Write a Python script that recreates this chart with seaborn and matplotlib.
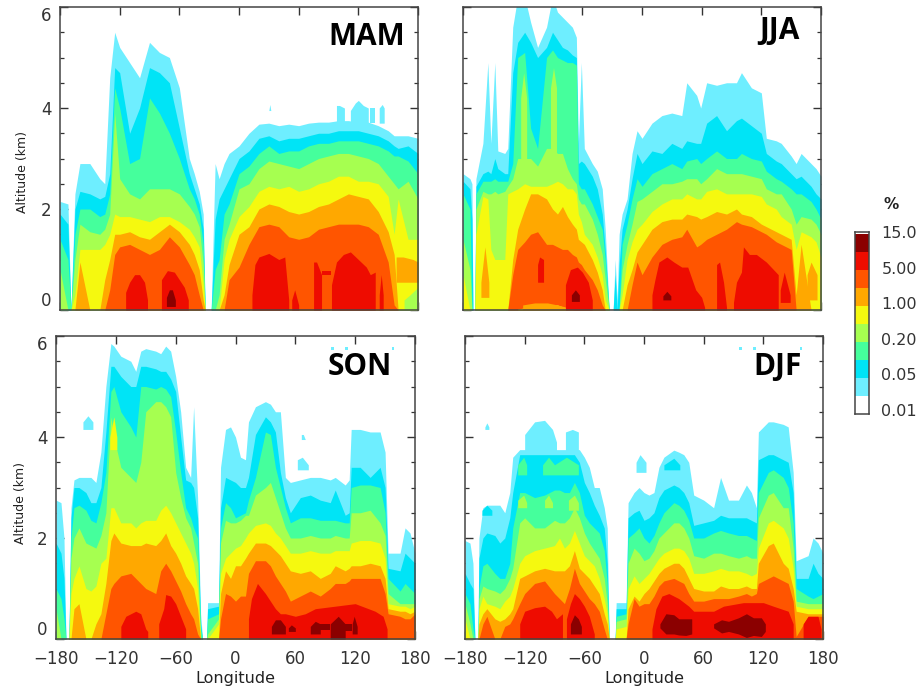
import numpy as np
import matplotlib
matplotlib.use("Agg")
import matplotlib.pyplot as plt
from matplotlib.colors import ListedColormap
import seaborn as sns

BAND_COLORS = ["#6EEEFF", "#00E4F6", "#45FF9C", "#A6FF50", "#F5F90F",
               "#FFA800", "#FF5500", "#EE0C00", "#8B0000"]
KEY_LABELS = ["15.0", "5.00", "1.00", "0.20", "0.05", "0.01"]
X_TICKS = [-180, -120, -60, 0, 60, 120, 180]

# ---- MAM: altitude (km) reached by each concentration band at each longitude
MAM_LON = [-180, -172, -169, -165, -160, -150, -140, -135, -130, -125,
           -120, -110, -100, -90, -80, -70, -60, -50, -45, -40,
           -36, -34, -28, -24, -20, -15, -10, 0, 10, 20,
           30, 40, 50, 60, 70, 80, 90, 100, 110, 120,
           130, 140, 150, 156, 160, 170, 180]
MAM_T1 = [2.15, 2.1, 0, 2.3, 2.9, 2.9, 2.6, 2.5, 4.6, 5.5,
          5.2, 4.9, 4.6, 5.3, 5.1, 5.0, 4.4, 3.0, 2.7, 2.35,
          1.9, 0, 0, 2.9, 2.6, 2.9, 3.1, 3.25, 3.5, 3.68,
          3.7, 3.65, 3.68, 3.65, 3.7, 3.72, 3.72, 3.75, 3.75, 3.72,
          3.72, 3.65, 3.55, 3.45, 3.45, 3.45, 3.4]
MAM_T2 = [1.9, 1.7, 0, 2.0, 2.35, 2.3, 2.2, 2.25, 2.7, 4.8,
          4.7, 3.5, 4.0, 4.8, 4.7, 4.5, 3.6, 2.7, 2.4, 2.1,
          1.6, 0, 0, 1.8, 2.2, 2.4, 2.6, 3.0, 3.15, 3.4,
          3.45, 3.35, 3.4, 3.4, 3.45, 3.5, 3.5, 3.55, 3.55, 3.55,
          3.5, 3.45, 3.35, 3.25, 3.2, 3.25, 3.1]
MAM_T3 = [1.4, 1.0, 0, 1.5, 2.0, 2.0, 1.85, 1.9, 2.3, 4.4,
          4.0, 2.9, 3.0, 4.2, 3.9, 3.5, 3.0, 2.4, 2.2, 1.9,
          1.3, 0, 0, 0.8, 1.0, 1.9, 2.1, 2.7, 2.85, 3.1,
          3.25, 3.1, 3.15, 3.15, 3.25, 3.3, 3.3, 3.35, 3.35, 3.35,
          3.3, 3.25, 3.15, 3.05, 3.05, 2.95, 2.7]
MAM_T4 = [0.8, 0, 0, 1.0, 1.7, 1.55, 1.5, 1.6, 1.9, 3.9,
          2.6, 2.3, 2.2, 2.4, 2.4, 2.4, 2.3, 2.05, 1.9, 1.65,
          0.9, 0, 0, 0, 0.3, 1.4, 1.7, 2.4, 2.5, 2.8,
          2.95, 2.9, 2.85, 2.8, 2.9, 3.0, 3.05, 3.1, 3.1, 3.05,
          3.0, 2.9, 2.65, 2.5, 2.4, 2.55, 2.2]
MAM_T5 = [0, 0, 0, 0.3, 1.2, 1.2, 1.2, 1.3, 1.5, 1.9,
          1.85, 1.85, 1.8, 1.75, 1.85, 1.85, 1.75, 1.6, 1.45, 1.25,
          0.5, 0, 0, 0, 0, 1.0, 1.4, 1.85, 2.05, 2.35,
          2.45, 2.4, 2.45, 2.35, 2.4, 2.5, 2.55, 2.65, 2.65, 2.55,
          2.55, 2.5, 2.25, 1.5, 2.2, 1.4, 1.4]
MAM_T6 = [0, 0, 0, 0, 0.95, 0, 0, 0.6, 1.0, 1.5,
          1.5, 1.55, 1.45, 1.4, 1.55, 1.7, 1.55, 1.3, 1.1, 0.8,
          0.2, 0, 0, 0, 0, 0.3, 0.9, 1.5, 1.65, 2.0,
          2.1, 2.05, 1.95, 1.9, 1.95, 2.05, 2.1, 2.2, 2.3, 2.25,
          2.2, 1.95, 1.55, 1.1, 0, 0, 0]
MAM_T7 = [0, 0, 0, 0, 0, 0, 0, 0, 0.4, 1.1,
          1.25, 1.3, 1.2, 1.1, 1.2, 1.45, 1.25, 0.9, 0.7, 0.3,
          0, 0, 0, 0, 0, 0, 0.6, 0.85, 1.3, 1.65,
          1.7, 1.65, 1.45, 1.4, 1.45, 1.6, 1.65, 1.7, 1.7, 1.7,
          1.65, 1.5, 0.95, 0.1, 0, 0, 0]
MAM_PATCHES = [
    (1, [30, 31, 32], 3.95, [3.95, 4.07, 3.95]),
    (1, [98, 101, 106], 3.65, [4.05, 4.05, 4.0]),
    (1, [112, 117, 120, 125, 130], 3.65, [3.95, 4.1, 4.15, 4.05, 4.0]),
    (1, [132, 137], 3.7, [4.0, 4.0]),
    (1, [141, 144, 146], 3.7, [4.0, 4.07, 4.0]),
    (4, [166, 172, 180], 0, [0.2, 0.3, 0.45]),
    (6, [158, 165, 175, 180], 0.55, [1.05, 1.05, 1.0, 0.95]),
    (8, [-114, -110, -105, -100, -95, -92], 0, [0.35, 0.55, 0.7, 0.7, 0.55, 0.2]),
    (8, [-78, -72, -65, -60, -55, -51], 0, [0.6, 0.78, 0.75, 0.6, 0.45, 0.2]),
    (8, [13, 16, 20, 30, 40, 46, 50], 0, [0.3, 0.9, 1.05, 1.12, 1.0, 1.05, 0.2]),
    (8, [53, 56, 60], 0, [0.2, 0.4, 0.1]),
    (8, [75, 78, 83], 0, [0.95, 0.95, 0.7]),
    (8, [83, 93], 0.7, [0.78, 0.78]),
    (8, [93, 98, 105, 112, 120, 128, 132, 137], 0, [0.5, 0.95, 1.1, 1.15, 1.0, 0.85, 0.7, 0.75]),
    (8, [141, 143, 145], 0, [0.3, 0.7, 0.3]),
    (9, [-73, -70, -67, -64], 0.07, [0.25, 0.4, 0.4, 0.2]),
]

# ---- JJA
JJA_LON = [-180, -173, -171, -170, -168, -167, -160, -155, -152, -148,
           -145, -138, -135, -130, -125, -118, -112, -105, -96, -90,
           -85, -80, -75, -70, -66, -64, -61, -58, -50, -45,
           -40, -37, -33, -29, -27, -25, -23, -20, -15, -10,
           -5, 0, 10, 20, 30, 40, 45, 55, 59, 65,
           75, 85, 95, 100, 110, 120, 125, 135, 140, 150,
           155, 160, 170, 175, 180]
JJA_T1 = [2.7, 2.6, 2.5, 0, 0, 2.6, 3.3, 4.9, 3.3, 4.9,
          3.15, 3.1, 3.2, 5.6, 6.2, 6.2, 5.7, 5.2, 5.6, 6.2,
          5.9, 5.8, 5.7, 5.6, 5.4, 3.3, 4.9, 3.2, 2.9, 2.75,
          2.4, 1.6, 0, 0, 1.0, 0.2, 1.5, 1.9, 2.2, 3.1,
          3.55, 3.4, 3.7, 3.85, 3.9, 3.85, 4.5, 4.25, 4.0, 4.5,
          4.45, 4.5, 4.5, 4.7, 4.4, 4.3, 3.4, 3.35, 3.3, 3.05,
          2.9, 3.1, 2.9, 2.8, 2.65]
JJA_T2 = [2.55, 2.4, 1.8, 0, 0, 2.45, 2.7, 2.75, 2.7, 3.0,
          2.8, 2.7, 2.7, 4.7, 5.3, 5.5, 5.3, 5.0, 5.2, 5.5,
          5.35, 5.2, 5.15, 5.05, 5.0, 2.9, 2.95, 2.9, 2.65, 2.4,
          1.9, 1.2, 0, 0, 0.7, 0, 0.9, 1.6, 2.0, 2.6,
          3.1, 2.9, 3.15, 3.1, 3.3, 3.2, 3.35, 3.3, 3.3, 3.7,
          3.85, 3.55, 3.75, 3.8, 3.65, 3.5, 3.1, 2.95, 2.9, 2.7,
          2.6, 2.65, 2.45, 2.3, 2.2]
JJA_T3 = [2.3, 2.0, 0, 0, 0, 2.3, 2.55, 2.55, 2.55, 2.6,
          2.55, 2.55, 2.55, 2.9, 5.0, 5.1, 3.6, 3.2, 5.0, 5.15,
          5.0, 4.95, 4.9, 4.9, 4.85, 2.5, 2.4, 2.4, 2.1, 1.85,
          1.6, 1.0, 0, 0, 0, 0, 0, 1.3, 1.7, 2.2,
          2.6, 2.45, 2.7, 2.8, 2.9, 2.8, 2.95, 3.0, 2.9, 3.0,
          3.15, 3.0, 3.0, 3.1, 3.0, 2.95, 2.75, 2.6, 2.55, 2.4,
          2.3, 2.3, 2.15, 2.0, 1.8]
JJA_T4 = [1.4, 0.8, 0, 0, 0, 2.0, 2.35, 2.3, 2.3, 2.35,
          2.3, 2.35, 2.45, 2.6, 3.0, 3.0, 3.0, 2.85, 3.2, 3.2,
          3.1, 3.1, 2.8, 2.6, 2.5, 2.2, 2.1, 2.1, 1.8, 1.5,
          1.1, 0.6, 0, 0, 0, 0, 0, 0.8, 1.3, 1.7,
          2.15, 2.2, 2.35, 2.5, 2.5, 2.55, 2.6, 2.6, 2.5, 2.6,
          2.8, 2.7, 2.7, 2.7, 2.65, 2.6, 2.4, 2.3, 2.3, 2.0,
          1.7, 1.85, 1.8, 1.7, 1.5]
JJA_T5 = [0.7, 0, 0, 0, 0, 1.5, 2.25, 2.2, 1.2, 1.0,
          1.0, 1.0, 2.3, 2.35, 2.4, 2.5, 2.45, 2.45, 2.45, 2.5,
          2.55, 2.5, 2.4, 2.4, 2.3, 1.9, 1.75, 1.5, 1.3, 1.05,
          0.7, 0.2, 0, 0, 0, 0, 0, 0.3, 1.0, 1.35,
          1.6, 1.7, 1.95, 2.1, 2.2, 2.2, 2.3, 2.2, 2.2, 2.35,
          2.4, 2.3, 2.3, 2.3, 2.3, 2.25, 2.1, 2.0, 1.85, 1.7,
          1.2, 1.55, 1.45, 1.35, 1.05]
JJA_T6 = [0, 0, 0, 0, 0, 0, 0, 0, 0, 0,
          0, 0, 0, 1.0, 1.6, 2.0, 2.3, 2.3, 2.2, 2.0,
          1.9, 2.05, 1.85, 1.7, 1.6, 1.4, 1.35, 1.3, 1.0, 0.75,
          0.4, 0, 0, 0, 0, 0, 0, 0, 0.5, 0.8,
          1.15, 1.3, 1.6, 1.75, 1.8, 1.8, 1.9, 1.85, 1.8, 1.85,
          1.95, 1.9, 2.0, 1.9, 1.85, 1.7, 1.65, 1.55, 1.5, 1.4,
          0.3, 1.3, 0, 0, 0]
JJA_T7 = [0, 0, 0, 0, 0, 0, 0, 0, 0, 0,
          0, 0, 0, 0.7, 1.2, 1.35, 1.5, 1.55, 1.3, 1.3,
          1.25, 1.2, 1.2, 1.1, 1.05, 0.95, 0.9, 0.8, 0.6, 0.4,
          0.1, 0, 0, 0, 0, 0, 0, 0, 0, 0.5,
          0.95, 0.7, 1.05, 1.3, 1.4, 1.45, 1.6, 1.25, 1.3, 1.4,
          1.5, 1.6, 1.75, 1.7, 1.65, 1.55, 1.5, 1.35, 1.3, 1.2,
          0, 0, 0, 0, 0]
JJA_PATCHES = [
    (4, [-122, -119, -116], 2.9, [4.2, 4.7, 4.2]),
    (4, [-92, -89, -86], 3.0, [4.4, 4.8, 4.4]),
    (5, [-125, -115, -105, -85, -75, -68], 0, [0.02, 0.05, 0.08, 0.1, 0.03, 0]),
    (6, [-162, -158, -154], 0.25, [0.55, 1.25, 0.55]),
    (6, [166, 170, 176], 0.2, [0.7, 0.95, 0.7]),
    (6, [-120, -108, -95, -85, -75], 0, [0.1, 0.14, 0.14, 0.1, 0.05]),
    (8, [-105, -103, -99], 0.55, [0.9, 1.05, 1.0]),
    (8, [-77, -72, -65, -60, -54, -50], 0, [0.5, 0.8, 0.85, 0.75, 0.55, 0.2]),
    (8, [10, 13, 17, 25, 32, 40, 46, 54, 60, 63], 0, [0.3, 0.6, 0.95, 1.05, 0.95, 0.85, 0.85, 0.4, 0.25, 0.05]),
    (8, [75, 78, 82, 85], 0, [0.9, 0.95, 0.55, 0.05]),
    (8, [92, 95, 100, 102, 108, 115, 125, 137], 0, [0.15, 0.55, 0.75, 1.25, 1.1, 1.1, 0.95, 0.7]),
    (8, [139, 143, 149], 0.15, [0.4, 0.75, 0.3]),
    (9, [-71, -67, -63], 0.17, [0.3, 0.4, 0.3]),
    (9, [21, 25, 29], 0.2, [0.28, 0.37, 0.28]),
]

# ---- SON
SON_LON = [-180, -175, -172, -170, -167, -165, -162, -157, -150, -145,
           -140, -135, -130, -125, -122, -115, -105, -100, -95, -90,
           -80, -75, -70, -65, -60, -55, -50, -45, -42, -38,
           -35, -33, -29, -28, -17, -15, -10, -5, 0, 5,
           10, 13, 20, 30, 35, 40, 45, 50, 55, 65,
           75, 85, 95, 100, 110, 114, 116, 125, 135, 145,
           150, 153, 165, 170, 175, 180]
SON_T1 = [2.75, 2.7, 2.0, 0, 0, 2.6, 3.15, 3.2, 3.2, 3.2,
          3.1, 3.7, 5.0, 5.85, 5.8, 5.6, 5.5, 5.3, 5.7, 5.75,
          5.7, 5.65, 5.8, 5.7, 5.2, 4.5, 3.4, 3.2, 4.6, 2.8,
          0.5, 0, 0, 0.72, 0.72, 3.4, 4.15, 4.2, 4.0, 3.6,
          3.55, 4.3, 4.6, 4.7, 4.65, 4.5, 4.5, 3.2, 3.1, 3.15,
          3.2, 3.2, 3.15, 3.2, 3.05, 3.15, 4.15, 4.15, 4.1, 4.1,
          3.7, 1.7, 1.7, 2.2, 2.1, 1.7]
SON_T2 = [1.9, 1.7, 1.2, 0, 0, 2.4, 3.0, 3.0, 2.9, 2.7,
          2.7, 3.0, 4.1, 5.4, 5.4, 5.2, 5.0, 5.0, 5.4, 5.4,
          5.35, 5.3, 5.3, 5.15, 4.9, 4.0, 3.15, 3.1, 3.0, 2.4,
          0.3, 0, 0, 0.6, 0.65, 2.6, 3.2, 3.15, 3.1, 3.0,
          3.0, 3.2, 4.05, 4.4, 4.3, 4.1, 3.3, 2.8, 2.5, 2.8,
          2.85, 2.75, 2.7, 2.95, 2.45, 2.5, 3.4, 3.4, 3.2, 3.4,
          3.0, 1.4, 1.35, 1.7, 1.6, 1.5]
SON_T3 = [1.0, 0.8, 0.4, 0, 0, 2.0, 2.6, 2.65, 2.55, 2.35,
          2.3, 2.7, 3.3, 4.9, 5.0, 4.5, 4.2, 4.0, 5.0, 5.0,
          4.95, 5.0, 4.95, 4.8, 4.1, 3.3, 2.6, 2.4, 2.2, 2.0,
          0.2, 0, 0, 0.4, 0.5, 2.2, 2.7, 2.6, 2.4, 2.45,
          2.5, 2.75, 3.2, 4.1, 4.05, 3.4, 3.0, 2.6, 2.3, 2.4,
          2.4, 2.35, 2.35, 2.35, 2.3, 2.3, 3.0, 3.05, 3.05, 3.0,
          2.5, 1.2, 0.95, 1.1, 1.0, 0.9]
SON_T4 = [0.6, 0, 0, 0, 0, 1.6, 2.0, 2.2, 1.9, 1.85,
          1.8, 2.05, 2.5, 4.4, 4.0, 3.4, 3.2, 3.1, 3.5, 4.5,
          4.7, 4.7, 4.6, 4.4, 3.3, 2.8, 2.4, 2.2, 1.9, 1.5,
          0, 0, 0, 0.1, 0.4, 1.9, 2.35, 2.3, 2.3, 2.35,
          2.45, 2.45, 2.85, 3.0, 3.1, 2.8, 2.5, 2.2, 2.0, 2.0,
          2.05, 2.0, 2.0, 2.05, 2.0, 2.0, 2.5, 2.5, 2.55, 2.3,
          2.05, 0.9, 0.7, 0.7, 0.7, 0.7]
SON_T5 = [0, 0, 0, 0, 0, 0.9, 1.2, 1.45, 1.0, 0.95,
          1.05, 1.5, 1.6, 2.6, 2.6, 2.3, 2.3, 2.2, 2.3, 2.35,
          2.35, 2.55, 2.65, 2.5, 2.3, 2.1, 1.9, 1.7, 1.5, 1.0,
          0, 0, 0, 0, 0.3, 1.3, 1.6, 1.7, 1.8, 1.85,
          2.0, 2.1, 2.25, 2.3, 2.25, 2.1, 2.0, 1.85, 1.7, 1.7,
          1.75, 1.7, 1.7, 1.75, 1.75, 1.75, 1.9, 1.95, 1.95, 1.9,
          1.6, 0.7, 0.65, 0.65, 0.6, 0.65]
SON_T6 = [0, 0, 0, 0, 0, 0, 0.6, 0.7, 0, 0,
          0.3, 0.5, 1.1, 1.95, 2.1, 1.9, 1.85, 1.85, 1.85, 1.9,
          1.85, 1.95, 2.1, 1.85, 1.7, 1.5, 1.25, 1.1, 1.0, 0.6,
          0, 0, 0, 0, 0, 0.9, 1.35, 1.2, 1.45, 1.45,
          1.6, 1.7, 1.9, 1.9, 1.85, 1.75, 1.65, 1.5, 1.35, 1.3,
          1.35, 1.2, 1.3, 1.45, 1.35, 1.4, 1.45, 1.45, 1.5, 1.45,
          1.2, 0.6, 0.55, 0.55, 0.5, 0.55]
SON_T7 = [0, 0, 0, 0, 0, 0, 0, 0, 0, 0,
          0, 0, 0.5, 1.0, 1.1, 1.25, 1.3, 1.2, 1.1, 1.0,
          0.9, 1.35, 1.5, 1.35, 1.15, 0.95, 0.7, 0.5, 0.4, 0.1,
          0, 0, 0, 0, 0, 0.4, 0.9, 0.85, 0.75, 0.85,
          0.85, 1.3, 1.55, 1.55, 1.45, 1.25, 1.1, 0.95, 0.75, 0.85,
          0.95, 0.85, 1.0, 1.1, 1.1, 1.15, 1.2, 1.2, 1.2, 1.2,
          0.9, 0.5, 0.45, 0.4, 0.4, 0.5]
SON_PATCHES = [
    (1, [-153, -148, -143], 4.15, [4.3, 4.42, 4.3]),
    (1, [66, 68, 70], 3.95, [4.05, 4.05, 3.95]),
    (1, [62, 67, 73], 3.35, [3.55, 3.6, 3.45]),
    (1, [96, 99], 5.72, [5.78, 5.78]),
    (1, [110, 113], 5.72, [5.78, 5.78]),
    (1, [157, 159], 5.72, [5.78, 5.78]),
    (5, [-126, -122, -119], 3.75, [4.0, 4.4, 4.0]),
    (8, [-115, -110, -100, -95, -90, -88], 0, [0.25, 0.45, 0.55, 0.5, 0.2, 0.15]),
    (8, [-77, -72, -70, -65, -60, -55, -50], 0, [0.3, 0.6, 0.88, 0.85, 0.7, 0.45, 0.2]),
    (8, [13, 16, 22, 30, 40, 45, 50, 60, 70, 80, 100, 120, 140, 148, 152],
     0, [0.4, 0.8, 1.1, 0.9, 0.6, 0.5, 0.5, 0.45, 0.5, 0.6, 0.65, 0.7, 0.55, 0.45, 0.2]),
    (9, [36, 40, 45, 50], 0.1, [0.25, 0.38, 0.38, 0.25]),
    (9, [53, 56, 60], 0.15, [0.22, 0.28, 0.22]),
    (9, [75, 80, 85], 0.1, [0.25, 0.35, 0.3]),
    (9, [85, 95], 0.18, [0.3, 0.3]),
    (9, [95, 103, 110], 0.0, [0.3, 0.45, 0.3]),
    (9, [110, 117], 0.15, [0.3, 0.3]),
    (9, [117, 119, 122], 0.1, [0.3, 0.45, 0.25]),
]

# ---- DJF
DJF_LON = [-180, -175, -172, -170, -167, -166, -162, -158, -150, -145,
           -140, -135, -132, -125, -120, -110, -100, -90, -85, -80,
           -75, -70, -65, -60, -55, -50, -45, -40, -37, -35,
           -29, -28, -18, -16, -10, -5, 0, 5, 10, 15,
           20, 30, 35, 40, 45, 50, 60, 70, 77, 85,
           95, 103, 108, 113, 115, 125, 130, 140, 145, 150,
           153, 165, 170, 175, 180]
DJF_T1 = [1.95, 1.9, 1.5, 0, 0, 2.0, 2.6, 2.65, 2.65, 2.65,
          2.5, 2.9, 3.6, 3.75, 3.75, 3.75, 3.75, 3.75, 3.75, 3.75,
          3.75, 3.75, 3.75, 3.6, 3.4, 3.0, 3.0, 2.6, 2.2, 0,
          0, 0.72, 0.72, 2.7, 2.9, 3.0, 2.9, 2.85, 2.9, 3.4,
          3.6, 3.74, 3.7, 3.65, 3.5, 2.85, 2.75, 2.6, 3.2, 2.75,
          2.75, 3.05, 2.9, 2.6, 4.1, 4.3, 4.3, 4.25, 4.2, 3.3,
          1.55, 1.65, 2.0, 1.9, 1.7]
DJF_T2 = [1.3, 1.1, 1.0, 0, 0, 1.6, 2.0, 2.1, 2.05, 1.9,
          2.0, 2.4, 2.9, 3.65, 3.65, 3.65, 3.65, 3.65, 3.65, 3.65,
          3.65, 3.65, 3.5, 3.1, 2.9, 2.65, 2.45, 2.2, 1.5, 0,
          0, 0.6, 0.6, 2.4, 2.5, 2.55, 2.35, 2.4, 2.5, 2.8,
          2.95, 3.05, 3.0, 2.9, 2.7, 2.25, 2.3, 2.35, 2.45, 2.4,
          2.4, 2.4, 2.35, 2.3, 3.55, 3.65, 3.65, 3.55, 3.5, 2.9,
          1.2, 1.2, 1.5, 1.3, 1.2]
DJF_T3 = [0.9, 0.7, 0.2, 0, 0, 1.0, 1.45, 1.5, 1.3, 1.2,
          1.2, 1.5, 2.2, 2.9, 2.9, 2.8, 2.85, 2.95, 2.95, 2.9,
          2.9, 3.1, 2.9, 2.45, 2.3, 2.2, 2.1, 1.75, 1.1, 0,
          0, 0.45, 0.5, 2.0, 2.1, 2.2, 2.0, 1.9, 2.05, 2.3,
          2.5, 2.7, 2.65, 2.55, 2.35, 2.0, 2.0, 2.1, 2.15, 2.1,
          2.05, 2.05, 2.0, 1.95, 2.9, 3.3, 3.35, 3.2, 3.0, 2.3,
          1.0, 0.85, 0.8, 0.85, 0.9]
DJF_T4 = [0.7, 0.3, 0, 0, 0, 0.8, 1.05, 1.0, 0.95, 0.9,
          1.0, 1.2, 1.4, 2.3, 2.4, 2.2, 2.2, 2.35, 2.3, 2.3,
          2.4, 2.6, 2.4, 2.1, 1.9, 1.75, 1.6, 1.2, 0.7, 0,
          0, 0.35, 0.4, 1.5, 1.8, 1.7, 1.55, 1.6, 1.75, 2.0,
          2.1, 2.3, 2.3, 2.2, 2.0, 1.65, 1.6, 1.7, 1.7, 1.65,
          1.6, 1.65, 1.6, 1.6, 2.4, 2.85, 2.9, 2.6, 2.6, 1.8,
          0.75, 0.7, 0.7, 0.7, 0.7]
DJF_T5 = [0.4, 0, 0, 0, 0, 0.6, 0.85, 0.7, 0.65, 0.6,
          0.75, 0.85, 1.0, 1.5, 1.65, 1.75, 1.8, 1.85, 2.0, 1.8,
          1.9, 2.15, 1.9, 1.65, 1.55, 1.45, 1.2, 0.8, 0.5, 0,
          0, 0.2, 0.25, 1.0, 1.25, 1.1, 1.2, 1.3, 1.45, 1.6,
          1.7, 1.8, 1.8, 1.75, 1.6, 1.3, 1.3, 1.35, 1.4, 1.35,
          1.35, 1.3, 1.25, 1.3, 1.8, 2.3, 2.35, 2.2, 2.0, 1.4,
          0.65, 0.6, 0.6, 0.6, 0.6]
DJF_T6 = [0, 0, 0, 0, 0, 0.3, 0.5, 0.6, 0.4, 0.35,
          0.4, 0.5, 0.6, 1.2, 1.25, 1.35, 1.4, 1.35, 1.35, 1.35,
          1.45, 1.75, 1.4, 1.3, 1.2, 1.05, 0.9, 0.5, 0.3, 0,
          0, 0, 0, 0.6, 0.85, 0.75, 0.9, 1.0, 1.15, 1.3,
          1.4, 1.5, 1.5, 1.4, 1.2, 1.0, 0.95, 0.95, 1.05, 1.0,
          1.0, 1.05, 1.0, 1.0, 1.5, 1.85, 1.9, 1.5, 1.4, 1.0,
          0.55, 0.5, 0.5, 0.5, 0.5]
DJF_T7 = [0, 0, 0, 0, 0, 0, 0.3, 0.45, 0, 0,
          0.25, 0.3, 0.4, 0.7, 0.9, 1.1, 1.15, 0.9, 0.8, 0.7,
          1.0, 1.4, 1.1, 0.95, 0.8, 0.7, 0.55, 0.2, 0, 0,
          0, 0, 0, 0.3, 0.8, 0.65, 0.7, 0.7, 0.85, 1.05,
          1.15, 1.2, 1.15, 1.1, 0.9, 0.75, 0.75, 0.8, 0.8, 0.8,
          0.85, 0.9, 0.85, 0.9, 1.1, 1.2, 1.25, 1.15, 1.1, 0.75,
          0.05, 0.45, 0.45, 0.45, 0.45]
DJF_PATCHES = [
    (1, [-120, -110, -100, -92, -88], 3.72, [4.05, 4.3, 4.33, 4.15, 3.9]),
    (1, [-79, -72, -66], 3.72, [4.1, 4.15, 4.1]),
    (1, [-160, -158, -156], 4.15, [4.2, 4.28, 4.2]),
    (1, [-8, -4, 2], 3.3, [3.5, 3.65, 3.5]),
    (1, [96, 99], 5.72, [5.78, 5.78]),
    (1, [110, 113], 5.72, [5.78, 5.78]),
    (1, [157, 159], 5.72, [5.78, 5.78]),
    (2, [-163, -158, -153], 2.45, [2.55, 2.65, 2.55]),
    (2, [20, 30, 36], 3.35, [3.45, 3.58, 3.45]),
    (3, [-127, -121, -118], 3.25, [3.45, 3.6, 3.45]),
    (3, [-102, -96, -90], 3.25, [3.45, 3.6, 3.45]),
    (3, [-90, -78, -66], 3.25, [3.45, 3.6, 3.45]),
    (4, [-127, -121, -118], 2.6, [2.75, 2.85, 2.7]),
    (4, [-100, -96, -92], 2.6, [2.75, 2.85, 2.7]),
    (4, [-76, -70, -66], 2.55, [2.75, 2.85, 2.7]),
    (8, [-125, -120, -110, -100, -93, -88, -82], 0, [0.3, 0.55, 0.62, 0.65, 0.55, 0.4, 0.5]),
    (8, [-78, -74, -70, -65, -60, -55, -50], 0, [0.4, 0.7, 0.9, 0.8, 0.65, 0.45, 0.1]),
    (8, [8, 12, 18, 25, 35, 45, 50, 60, 70, 80, 100, 120, 130, 145, 150],
     0, [0.2, 0.6, 0.85, 0.9, 0.8, 0.65, 0.55, 0.55, 0.55, 0.65, 0.72, 0.72, 0.65, 0.55, 0.3]),
    (8, [160, 165, 175, 178], 0, [0.3, 0.45, 0.45, 0.2]),
    (9, [-74, -70, -66, -63], 0.1, [0.3, 0.48, 0.4, 0.25]),
    (9, [16, 22, 30, 35, 42, 48], [0.22, 0.1, 0.1, 0.08, 0.07, 0.1], [0.3, 0.5, 0.48, 0.4, 0.4, 0.4]),
    (9, [70, 78, 85, 95, 103, 110, 118, 122], [0.22, 0.12, 0.15, 0.1, 0.03, 0.07, 0.05, 0.15],
     [0.3, 0.38, 0.35, 0.42, 0.5, 0.42, 0.42, 0.3]),
]

W, H = 917, 689
sns.set_theme(style="ticks", rc={"axes.linewidth": 1.1, "axes.edgecolor": "#444444",
                                 "xtick.color": "#333333", "ytick.color": "#333333",
                                 "text.color": "#222222", "axes.labelcolor": "#222222"})
plt.rcParams["font.family"] = ["DejaVu Sans"]
fig = plt.figure(figsize=(W / 100, H / 100), dpi=100)


def add_axes(left, right, top, bottom):
    return fig.add_axes([left / W, 1 - bottom / H, (right - left) / W, (bottom - top) / H])


def draw_panel(box, lon, tops, patches, title, title_pos, left_labels, bottom_labels, ylab_pos):
    ax = add_axes(*box)
    for i, t in enumerate(tops):
        ax.fill_between(lon, 0, t, color=BAND_COLORS[i], linewidth=0)
    for band, plon, bot, top in patches:
        ax.fill_between(plon, bot, top, color=BAND_COLORS[band - 1], linewidth=0)
    ax.set_xlim(-180, 180)
    ax.set_ylim(0, 6)
    ax.set_axisbelow(True)
    ax.set_xticks(X_TICKS)
    ax.set_yticks([0, 2, 4, 6])
    ax.set_yticks(np.arange(0, 6.01, 0.5), minor=True)
    ax.tick_params(axis="both", which="major", direction="in", top=True, right=True,
                   length=5.5, width=1.0, labelsize=12)
    ax.tick_params(axis="y", which="minor", direction="in", left=True, right=True,
                   length=3, width=0.9)
    ax.tick_params(axis="y", pad=6)
    ax.tick_params(axis="x", pad=8)
    if left_labels:
        ax.set_yticklabels(["0", "2", "4", "6"])
        labs = ax.get_yticklabels()
        labs[0].set_va("bottom")
        labs[3].set_va("top")
        ax.set_ylabel("Altitude (km)", fontsize=9)
        ax.yaxis.set_label_coords(*ylab_pos)
        ax.yaxis.label.set_va("center")
    else:
        ax.set_yticklabels([])
    if bottom_labels:
        ax.set_xticklabels([str(v).replace("-", "\u2212") for v in X_TICKS])
        ax.set_xlabel("Longitude", fontsize=11.5)
        ax.xaxis.set_label_coords(0.5, -0.129)
        ax.xaxis.label.set_va("center")
    else:
        ax.set_xticklabels([])
    ax.text(*title_pos, title, transform=ax.transAxes, ha="center", va="center",
            fontsize=21.5, fontweight="bold", family="Open Sans", color="black")
    return ax


draw_panel((60, 418, 7, 310), MAM_LON,
           [MAM_T1, MAM_T2, MAM_T3, MAM_T4, MAM_T5, MAM_T6, MAM_T7], MAM_PATCHES,
           "MAM", (0.857, 0.90), True, False, (-0.106, 0.455))
draw_panel((463, 821, 7, 310), JJA_LON,
           [JJA_T1, JJA_T2, JJA_T3, JJA_T4, JJA_T5, JJA_T6, JJA_T7], JJA_PATCHES,
           "JJA", (0.885, 0.92), False, False, None)
draw_panel((56, 415, 336, 639), SON_LON,
           [SON_T1, SON_T2, SON_T3, SON_T4, SON_T5, SON_T6, SON_T7], SON_PATCHES,
           "SON", (0.847, 0.898), True, True, (-0.10, 0.449))
draw_panel((465, 823, 336, 639), DJF_LON,
           [DJF_T1, DJF_T2, DJF_T3, DJF_T4, DJF_T5, DJF_T6, DJF_T7], DJF_PATCHES,
           "DJF", (0.874, 0.898), False, True, None)

# colour key drawn as a one-column seaborn heatmap
cax = add_axes(855, 869, 232, 414)
key_colors = ["#FFFFFF"] + BAND_COLORS
key_values = np.arange(len(key_colors))[::-1].reshape(-1, 1)
sns.heatmap(key_values, cmap=ListedColormap(key_colors), cbar=False, ax=cax,
            xticklabels=False, yticklabels=False, vmin=-0.5, vmax=9.5)
for s in cax.spines.values():
    s.set_visible(True)
    s.set_color("#444444")
    s.set_linewidth(1.1)
cax.yaxis.tick_right()
cax.set_yticks(np.linspace(-0.1, 9.78, len(KEY_LABELS)))
cax.set_yticklabels(KEY_LABELS, rotation=0, fontsize=11.5)
cax.tick_params(axis="y", length=0, pad=9)
cax.set_title("%", fontsize=11, fontweight="bold", x=2.55, y=1.08)

fig.savefig("out.png", dpi=100)
